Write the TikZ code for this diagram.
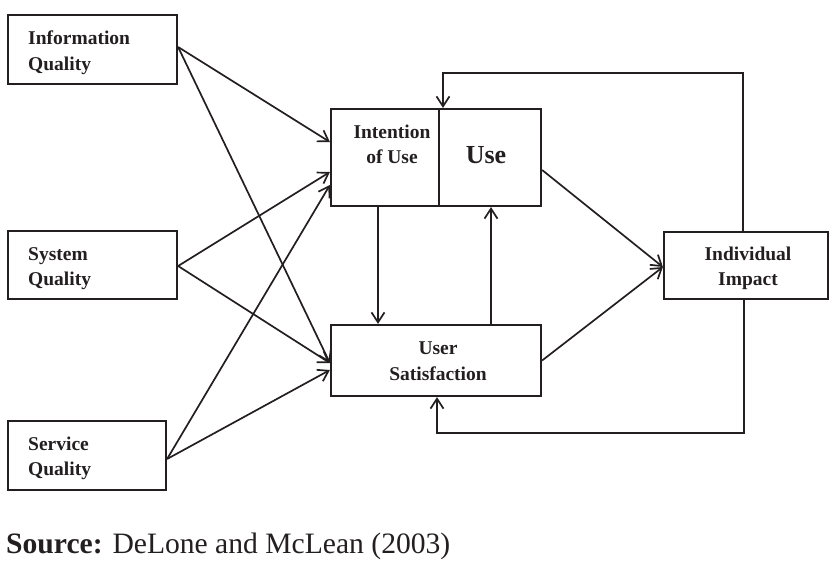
\documentclass[tikz,border=0pt]{standalone}
\usepackage{fontspec}
\setmainfont{Liberation Serif}
\usetikzlibrary{arrows.meta}
\definecolor{ink}{RGB}{35,31,32}
\tikzset{
  box/.style={draw=ink, line width=2.2pt, rectangle, inner sep=0pt},
  lbl/.style={text=ink, inner sep=0pt, font=\fontsize{19.5}{25.5}\selectfont\bfseries},
  arr/.style={draw=ink, line width=1.7pt, -{Straight Barb[length=10pt,width=13pt,line width=1.7pt]}},
}
\begin{document}
\begin{tikzpicture}[x=1pt,y=-1pt]
\useasboundingbox (0,0) rectangle (839,578);
% boxes
\node[box, minimum width=169pt, minimum height=69pt] (iq) at (92.5,49.5) {};
\node[box, minimum width=169pt, minimum height=68pt] (sq) at (92.5,265) {};
\node[box, minimum width=158pt, minimum height=69pt] (svq) at (87,455.5) {};
\node[box, minimum width=210pt, minimum height=97pt] (iu) at (436,157.5) {};
\node[box, minimum width=210pt, minimum height=71pt] (us) at (436,360.5) {};
\node[box, minimum width=164pt, minimum height=67pt] (ii) at (746,265.5) {};
\draw[draw=ink, line width=2.2pt] ([xshift=3pt]iu.north) -- ([xshift=3pt]iu.south);
% labels
\node[lbl, anchor=base west] (iq1) at (28,45) {Information};
\node[lbl, anchor=base west] (iq2) at (28,71) {Quality};
\node[lbl, anchor=base west] (sq1) at (28,260) {System};
\node[lbl, anchor=base west] (sq2) at (28,285) {Quality};
\node[lbl, anchor=base west] (svq1) at (28,450) {Service};
\node[lbl, anchor=base west] (svq2) at (28,475) {Quality};
\node[lbl, anchor=base] (iu1) at (392,139) {Intention};
\node[lbl, anchor=base] (iu2) at (392,163) {of Use};
\node[lbl, anchor=base, font=\fontsize{26}{30}\selectfont\bfseries] (use) at (486,164) {Use};
\node[lbl, anchor=base] (us1) at (438,354) {User};
\node[lbl, anchor=base] (us2) at (438,380) {Satisfaction};
\node[lbl, anchor=base] (ii1) at (748,260) {Individual};
\node[lbl, anchor=base] (ii2) at (748,285) {Impact};
% connectors
\draw[arr] ([yshift=2.5pt]iq.east) -- ([yshift=15.5pt]iu.west);
\draw[arr] ([yshift=2.5pt]iq.east) -- ([yshift=-2.5pt]us.west);
\draw[arr] ([yshift=-1pt]sq.east) -- ([yshift=-14.5pt]iu.west);
\draw[arr] ([yshift=-1pt]sq.east) -- ([yshift=-2.5pt]us.west);
\draw[arr] ([yshift=-3.5pt]svq.east) -- ([yshift=-27.5pt]iu.west);
\draw[arr] ([yshift=-3.5pt]svq.east) -- ([yshift=-9.5pt]us.west);
\draw[arr] ([xshift=-58pt]iu.south) -- ([xshift=-58pt]us.north);
\draw[arr] ([xshift=55pt]us.north) -- ([xshift=55pt]iu.south);
\draw[arr] ([yshift=-12.5pt]iu.east) -- ([yshift=-1.5pt]ii.west);
\draw[arr] (us.east) -- ([yshift=-1.5pt]ii.west);
\draw[arr] ([xshift=-3pt]ii.north) -- ++(0,-158) -| ([xshift=7pt]iu.north);
\draw[arr] ([xshift=-2pt]ii.south) -- ++(0,133) -| ([xshift=1pt]us.south);
% source
\node[anchor=base west, inner sep=0pt, text=ink, font=\fontsize{29.6}{36}\selectfont] (src) at (6,553) {\textbf{Source:} DeLone and McLean (2003)};
\end{tikzpicture}
\end{document}
